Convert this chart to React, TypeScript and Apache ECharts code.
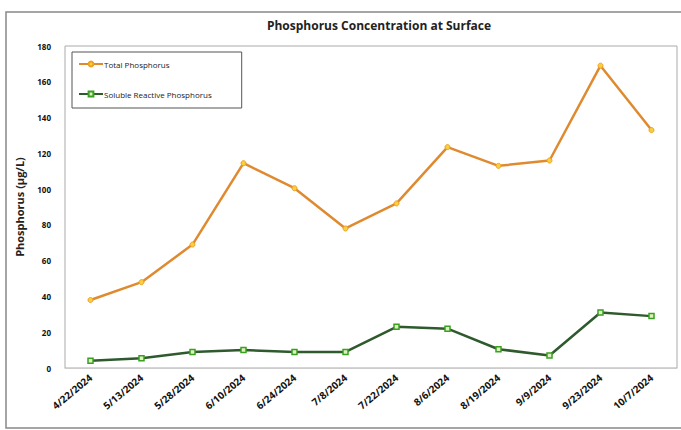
import React, { useEffect, useRef } from "react";
import * as echarts from "echarts";

const categories = [
  "4/22/2024", "5/13/2024", "5/28/2024", "6/10/2024", "6/24/2024", "7/8/2024",
  "7/22/2024", "8/6/2024", "8/19/2024", "9/9/2024", "9/23/2024", "10/7/2024",
];
const totalP = [38, 48, 69, 114.5, 100.5, 78, 92, 123.5, 113, 116, 169, 133];
const solubleP = [4, 5.5, 9, 10, 9, 9, 23, 22, 10.5, 7, 31, 29];
const seriesNames = ["Total Phosphorus", "Soluble Reactive Phosphorus"];

export default function App() {
  const ref = useRef<HTMLDivElement>(null);
  useEffect(() => {
    document.body.style.margin = "0";
    const chart = echarts.init(ref.current!, undefined, { renderer: "svg" });
    const font = "'Open Sans', sans-serif";
    chart.setOption({
      animation: false,
      backgroundColor: "#ffffff",
      title: {
        text: "Phosphorus Concentration at Surface",
        left: 374,
        textAlign: "center",
        top: 14,
        textStyle: { fontFamily: font, fontSize: 12, fontWeight: "bold", color: "#222" },
      },
      graphic: [
        {
          type: "rect",
          shape: { x: 6, y: 12, width: 690, height: 416 },
          style: { fill: "none", stroke: "#888", lineWidth: 1.5 },
          silent: true,
        },
      ],
      legend: {
        orient: "vertical",
        left: 72,
        top: 52,
        padding: [8, 30, 10, 6],
        itemGap: 22,
        itemWidth: 24,
        itemHeight: 6,
        borderColor: "#555",
        borderWidth: 1,
        data: seriesNames,
        textStyle: { fontFamily: font, fontSize: 8, color: "#222", padding: [0, 0, 0, -4] },
      },
      grid: {
        left: 65, right: 4, top: 46, bottom: 62, containLabel: false,
        show: true, borderColor: "#aaa", borderWidth: 1, backgroundColor: "transparent",
      },
      xAxis: {
        type: "category",
        data: categories,
        boundaryGap: true,
        axisLine: { show: true, lineStyle: { color: "#ccc" } },
        axisTick: { show: false },
        axisLabel: {
          rotate: 40,
          interval: 0,
          fontFamily: font,
          fontSize: 10,
          fontWeight: "bold",
          color: "#111",
          margin: 8,
        },
      },
      yAxis: {
        type: "value",
        min: 0,
        max: 180,
        interval: 20,
        name: "Phosphorus (\u00b5g/L)",
        nameLocation: "middle",
        nameGap: 40,
        nameTextStyle: { fontFamily: font, fontSize: 11, fontWeight: "bold", color: "#222" },
        axisLine: { show: false },
        axisTick: { show: false },
        splitLine: { show: false },
        axisLabel: { fontFamily: font, fontSize: 8, fontWeight: "bold", color: "#111", margin: 14 },
      },
      series: [
        {
          name: seriesNames[0],
          type: "line",
          data: totalP,
          symbol: "circle",
          symbolSize: 5,
          lineStyle: { color: "#e08a30", width: 2.5 },
          itemStyle: { color: "#f7d040", borderColor: "#f0a020", borderWidth: 1 },
        },
        {
          name: seriesNames[1],
          type: "line",
          data: solubleP,
          symbol: "rect",
          symbolSize: 5,
          lineStyle: { color: "#2e5a2e", width: 2.5 },
          itemStyle: { color: "#dff0c0", borderColor: "#3aa020", borderWidth: 1.5 },
        },
      ],
    });
    return () => chart.dispose();
  }, []);
  return <div ref={ref} style={{ width: 681, height: 430 }} />;
}
